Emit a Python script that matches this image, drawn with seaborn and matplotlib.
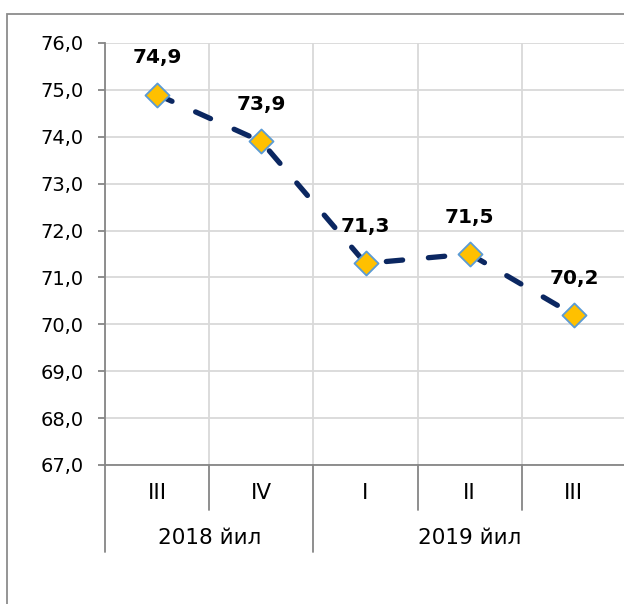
import matplotlib
matplotlib.use("Agg")
import matplotlib.pyplot as plt
import seaborn as sns
import pandas as pd
from matplotlib.patches import Rectangle

quarters = ["III", "IV", "I", "II", "III"]
years = ["2018 йил", "2019 йил"]
year_span = [2, 3]  # number of quarters per year group
values = [74.9, 73.9, 71.3, 71.5, 70.2]
value_labels = ["74,9", "73,9", "71,3", "71,5", "70,2"]
yticks = [67, 68, 69, 70, 71, 72, 73, 74, 75, 76]

sns.set_theme(style="white")
plt.rcParams['font.family'] = ['DejaVu Sans']

df = pd.DataFrame({"pos": list(range(len(values))), "value": values})

fig = plt.figure(figsize=(6.24, 6.04), dpi=100)
W, H = 624, 604
AH = 465 - 43
ax = fig.add_axes([105 / W, 1 - 465 / H, (626 - 105) / W, AH / H])

# outer frame
fig.patches.append(Rectangle((7 / W, -0.05), 1.2, 0.05 + 1 - 14 / H, transform=fig.transFigure,
                             fill=False, edgecolor="#8c8c8c", linewidth=1.3, zorder=0))

ax.set_xlim(-0.5, len(values) - 0.5)
ax.set_ylim(min(yticks), max(yticks))
ax.set_yticks(yticks)
ax.set_yticklabels([f"{t},0" for t in yticks], fontsize=14, color="#000000")
ax.set_xticks([])

# grid
for t in yticks:
    ax.axhline(t, color="#d9d9d9", linewidth=1.3, zorder=0)
for b in range(len(values) + 1):
    ax.axvline(b - 0.5, color="#d9d9d9", linewidth=1.3, zorder=0)

sns.lineplot(data=df, x="pos", y="value", ax=ax, color="#0b2761", linewidth=3.8,
             linestyle=(0, (3.1, 4.9)), zorder=3, legend=False)
ax.lines[-1].set_dash_capstyle("round")
sns.scatterplot(data=df, x="pos", y="value", ax=ax, marker="D", s=150, color="#ffc000",
                edgecolor="#5b9bd5", linewidth=1.3, zorder=4, legend=False)

for i, (v, lab) in enumerate(zip(values, value_labels)):
    ax.annotate(lab, (i, v), xytext=(0, 26.5), textcoords="offset points",
                ha="center", va="center", fontsize=14.5, fontweight="bold",
                color="#000000")

for s in ["top", "right"]:
    ax.spines[s].set_visible(False)
for s in ["left", "bottom"]:
    ax.spines[s].set_color("#868686")
    ax.spines[s].set_linewidth(1.3)
ax.tick_params(axis="y", which="both", left=True, length=5, width=1.3, color="#868686", pad=10.5)
ax.set_xlabel("")
ax.set_ylabel("")

# category axis labels
trans = ax.get_xaxis_transform()
for i, q in enumerate(quarters):
    ax.text(i, -28 / AH, q, transform=trans, ha="center", va="center", fontsize=15.5, color="#000000")

# separators
start = 0
boundaries = [-0.5]
for span in year_span:
    start += span
    boundaries.append(start - 0.5)
for b in range(len(values) + 1):
    xb = b - 0.5
    y1 = -87 / AH if xb in boundaries else -45 / AH
    ax.plot([xb, xb], [0, y1], transform=trans, color="#868686", linewidth=1.3, clip_on=False)

start = 0
for yr, span in zip(years, year_span):
    center = start + (span - 1) / 2
    ax.text(center, -73 / AH, yr, transform=trans, ha="center", va="center", fontsize=15.5, color="#000000")
    start += span

fig.savefig("out.png", dpi=100)
